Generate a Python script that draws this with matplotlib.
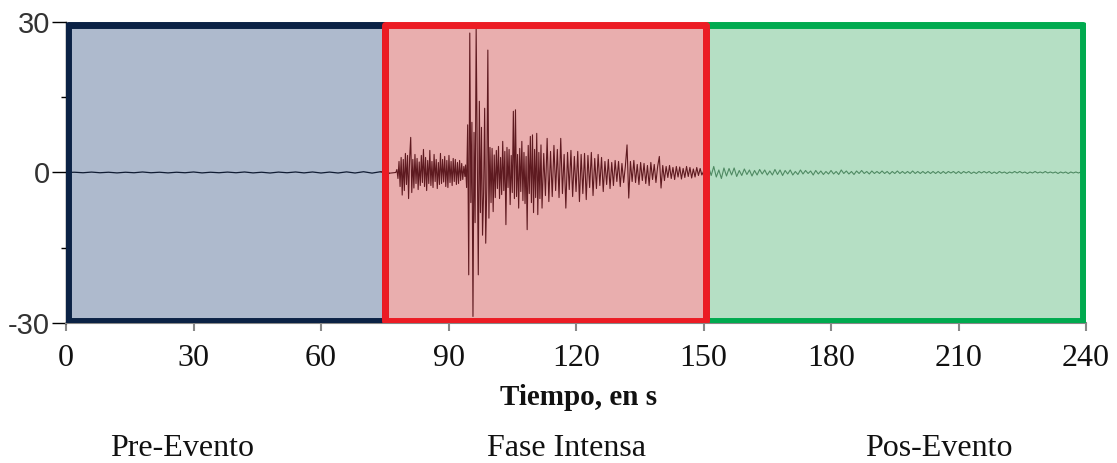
import numpy as np
import matplotlib.pyplot as plt
from matplotlib.patches import Rectangle

# seismogram, in pieces with their own sample step
pre_t0, pre_dt = 0.0, 2.0
pre_amp = [0.0, 0.05, -0.05, 0.08, -0.05, 0.05, -0.08, 0.05, -0.05, 0.1,
           -0.05, 0.05, -0.08, 0.05, -0.05, 0.1, -0.08, 0.05, -0.05, 0.08,
           -0.05, 0.1, -0.08, 0.05, -0.1, 0.08, -0.05, 0.1, -0.08, 0.1,
           -0.1, 0.08, -0.1, 0.12, -0.1, 0.15, -0.12, 0.15, -0.15]

onset_t0, onset_dt = 77.6, 0.25
onset_amp = [0.0, 0.6, -1.2, 2.2, -2.8, 3.0, -4.5, 2.6,
             -3.6, 3.8, -2.4, 3.4, -5.2, 2.9, 7.0, -4.0,
             2.6, -3.1, 3.6, -2.2, 2.8, -3.4, 2.1, -2.6,
             3.4, -2.0, 4.6, -2.8, 3.0, -3.6, 2.4, -2.2,
             4.4, -2.6, 2.2, -3.0, 3.6, -1.8, 2.6, -3.2,
             2.0, -2.4, 3.8, -2.2, 2.6, -1.9, 3.2, -2.8,
             2.4, -3.0, 3.4, -2.0, 2.2, -2.6, 2.8, -1.8,
             2.6, -2.4, 2.0, -2.2, 2.4, -1.6, 1.8, -1.4,
             1.2, -0.8]

main_t0, main_dt = 94.0, 0.25
main_amp = [1.5, -3.0, 9.5, -20.4, 27.8, -6.0, 10.0, -28.7, 8.0, -10.0,
            28.8, 5.0, -20.4, 14.2, -8.0, 9.0, -12.5, -4.0, 12.8, -14.1,
            -3.0, 24.4, -9.1, 5.0, -6.0, 4.8, -7.8, 3.5, -5.0, 4.4,
            -3.2, 5.2, -5.2, 3.0, -4.4, 6.2, -3.6, 4.2, -10.4, 5.0,
            -3.0, 4.6, -6.4, 3.4, -4.0, 12.2, -5.2, 12.5, -4.8, 3.6,
            -7.1, 4.8, -3.8, 6.2, -5.6, 4.0, -6.2, 3.2, -11.4, 5.4,
            -4.2, 7.2, -6.0, 7.5, -8.0, 4.6, -5.0, 7.8, -8.4, 4.0,
            -5.2, 5.5]

coda_t0, coda_dt = 112.0, 0.4
coda_amp = [-7.1, 3.8, -4.6, 6.8, -5.8, 4.2, -4.8, 5.4, -3.6, 4.6,
            -5.0, 6.8, -4.2, 3.6, -7.1, 4.0, -3.4, 4.4, -4.8, 3.2,
            -3.8, 4.2, -5.8, 3.6, -4.2, 3.8, -5.4, 3.4, -3.0, 4.0,
            -4.6, 2.8, -3.2, 3.6, -2.6, 3.0, -3.8, 2.2, -2.4, 2.6,
            -3.2, 2.0, -2.6, 2.4, -1.8, 2.2, -2.8, 1.8, -2.0, 1.2,
            5.5, -5.1, 2.2, -1.8, 2.4, -2.0, 1.6, -2.4, 2.0, -1.6,
            1.8, -2.2, 1.4, -2.6, 2.0, -1.4, 1.6, -2.0, 1.2, 3.2,
            -3.1, 1.4, -1.6, 1.2, -1.0, 1.4, -1.2, 1.0, -1.4, 1.2,
            -0.9, 1.1, -1.3, 0.8, -1.0, 1.2, -0.8, 1.0, -1.1, 0.7,
            -0.9, 1.0, -0.6, 0.8, -0.5]

post_t0, post_dt = 150.0, 0.6
post_amp = [0.2, -0.8, 1.1, -0.6, 1.2, -0.9, 0.5, -1.2, 0.9, -0.7,
            0.8, -0.5, 0.9, -0.8, 0.4, -0.6, 0.7, -0.4, 0.5, -0.7,
            0.4, -0.5, 0.6, -0.3, 0.5, -0.5, 0.3, -0.5, 0.6, -0.4,
            0.5, -0.6, 0.4, -0.3, 0.5, -0.5, 0.2, -0.4, 0.5, -0.3,
            0.4, -0.2, 0.3, -0.5, 0.4, -0.3, 0.3, -0.4, 0.2, -0.3,
            0.4, -0.3, 0.2, -0.4, 0.5, -0.2, 0.3, -0.3, 0.2, -0.4,
            0.3, -0.2, 0.4, -0.2, 0.2, -0.3, 0.3, -0.2, 0.2, -0.2,
            0.3, -0.2, 0.2, -0.3, 0.2, -0.2, 0.3, -0.2, 0.2, -0.2,
            0.2, -0.2, 0.3, -0.2, 0.2, -0.2, 0.2, -0.2, 0.2, -0.2,
            0.2, -0.2, 0.2, -0.2, 0.2, -0.2, 0.2, -0.1, 0.2, -0.2,
            0.2, -0.2, 0.2, -0.1, 0.2, -0.2, 0.1, -0.2, 0.2, -0.1,
            0.2, -0.1, 0.2, -0.2, 0.1, -0.2, 0.2, -0.1, 0.1, -0.2,
            0.1, -0.1, 0.2, -0.1, 0.2, -0.1, 0.1, -0.2, 0.1, -0.1,
            0.2, -0.1, 0.1, -0.1, 0.2, -0.1, 0.1, -0.1, 0.1, -0.2,
            0.1, -0.1, 0.1, -0.2, 0.1, -0.1, 0.1, -0.1, 0.1, -0.1,
            0.0]

# phases
phase_names = ["Pre-Evento", "Fase Intensa", "Pos-Evento"]
phase_start = [0.5, 75.0, 150.5]
phase_end = [75.0, 150.5, 239.3]
phase_fill = ["#aebacd", "#e9aeae", "#b5dfc4"]
phase_edge = ["#0b2245", "#ec1c24", "#00aa4f"]
trace_color = ["#101c33", "#5e1a20", "#4f8a63"]

x_ticks = [0, 30, 60, 90, 120, 150, 180, 210, 240]
y_ticks = [-30, 0, 30]

pieces = [(pre_t0, pre_dt, pre_amp), (onset_t0, onset_dt, onset_amp),
          (main_t0, main_dt, main_amp), (coda_t0, coda_dt, coda_amp),
          (post_t0, post_dt, post_amp)]
t = np.concatenate([t0 + dt * np.arange(len(a)) for t0, dt, a in pieces])
v = np.concatenate([np.array(a, dtype=float) for _, _, a in pieces])

fig = plt.figure(figsize=(11.17, 4.63), dpi=100)
ax = fig.add_axes([0.0591, 0.3024, 0.9132, 0.6501])

y_lo, y_hi = -29.7, 29.4
order = [0, 2, 1]  # red box drawn last, on top of its neighbours
for i in order:
    ax.add_patch(Rectangle((phase_start[i], y_lo), phase_end[i] - phase_start[i],
                           y_hi - y_lo, facecolor=phase_fill[i], edgecolor="none",
                           zorder=1))

for i in range(3):
    lo = max(np.searchsorted(t, phase_start[i]) - 1, 0)
    hi = np.searchsorted(t, phase_end[i]) + 1
    if i == 0:
        lo = 0
    ax.plot(t[lo:hi], v[lo:hi], color=trace_color[i], lw=0.9 if i == 0 else 0.8,
            zorder=2)

for i in order:
    ax.add_patch(Rectangle((phase_start[i], y_lo), phase_end[i] - phase_start[i],
                           y_hi - y_lo, facecolor="none", edgecolor=phase_edge[i],
                           lw=5, joinstyle="round", zorder=3))

ax.set_xlim(0, 240)
ax.set_ylim(-30, 30)
ax.set_xticks(x_ticks)
ax.set_xticklabels([str(x) for x in x_ticks], fontfamily="Liberation Serif",
                   fontsize=23, color="#111111")
ax.set_yticks(y_ticks)
ax.set_yticklabels([str(y) for y in y_ticks], fontfamily="Liberation Sans",
                   fontsize=21, color="#333333")
ax.set_yticks([-15, 15], minor=True)
ax.tick_params(axis="y", which="major", length=10, width=1, pad=1.5)
ax.tick_params(axis="y", which="minor", length=3.6, width=1)
ax.tick_params(axis="x", length=6, width=1.5, color="#888888", pad=9)

for s in ["top", "right"]:
    ax.spines[s].set_visible(False)
ax.spines["bottom"].set_color("#888888")
ax.spines["bottom"].set_linewidth(1.5)
ax.spines["left"].set_linewidth(1)

fig.text(0.518, 0.125, "Tiempo, en s", ha="center", va="baseline",
         fontsize=21, fontweight="bold", family="Liberation Serif", color="#111111")

label_x = [0.163, 0.5076, 0.8402]
for name, lx in zip(phase_names, label_x):
    fig.text(lx, 0.015, name, ha="center", va="baseline", fontsize=23,
             family="Liberation Serif", color="#111111")

fig.savefig("out.png", dpi=100)
